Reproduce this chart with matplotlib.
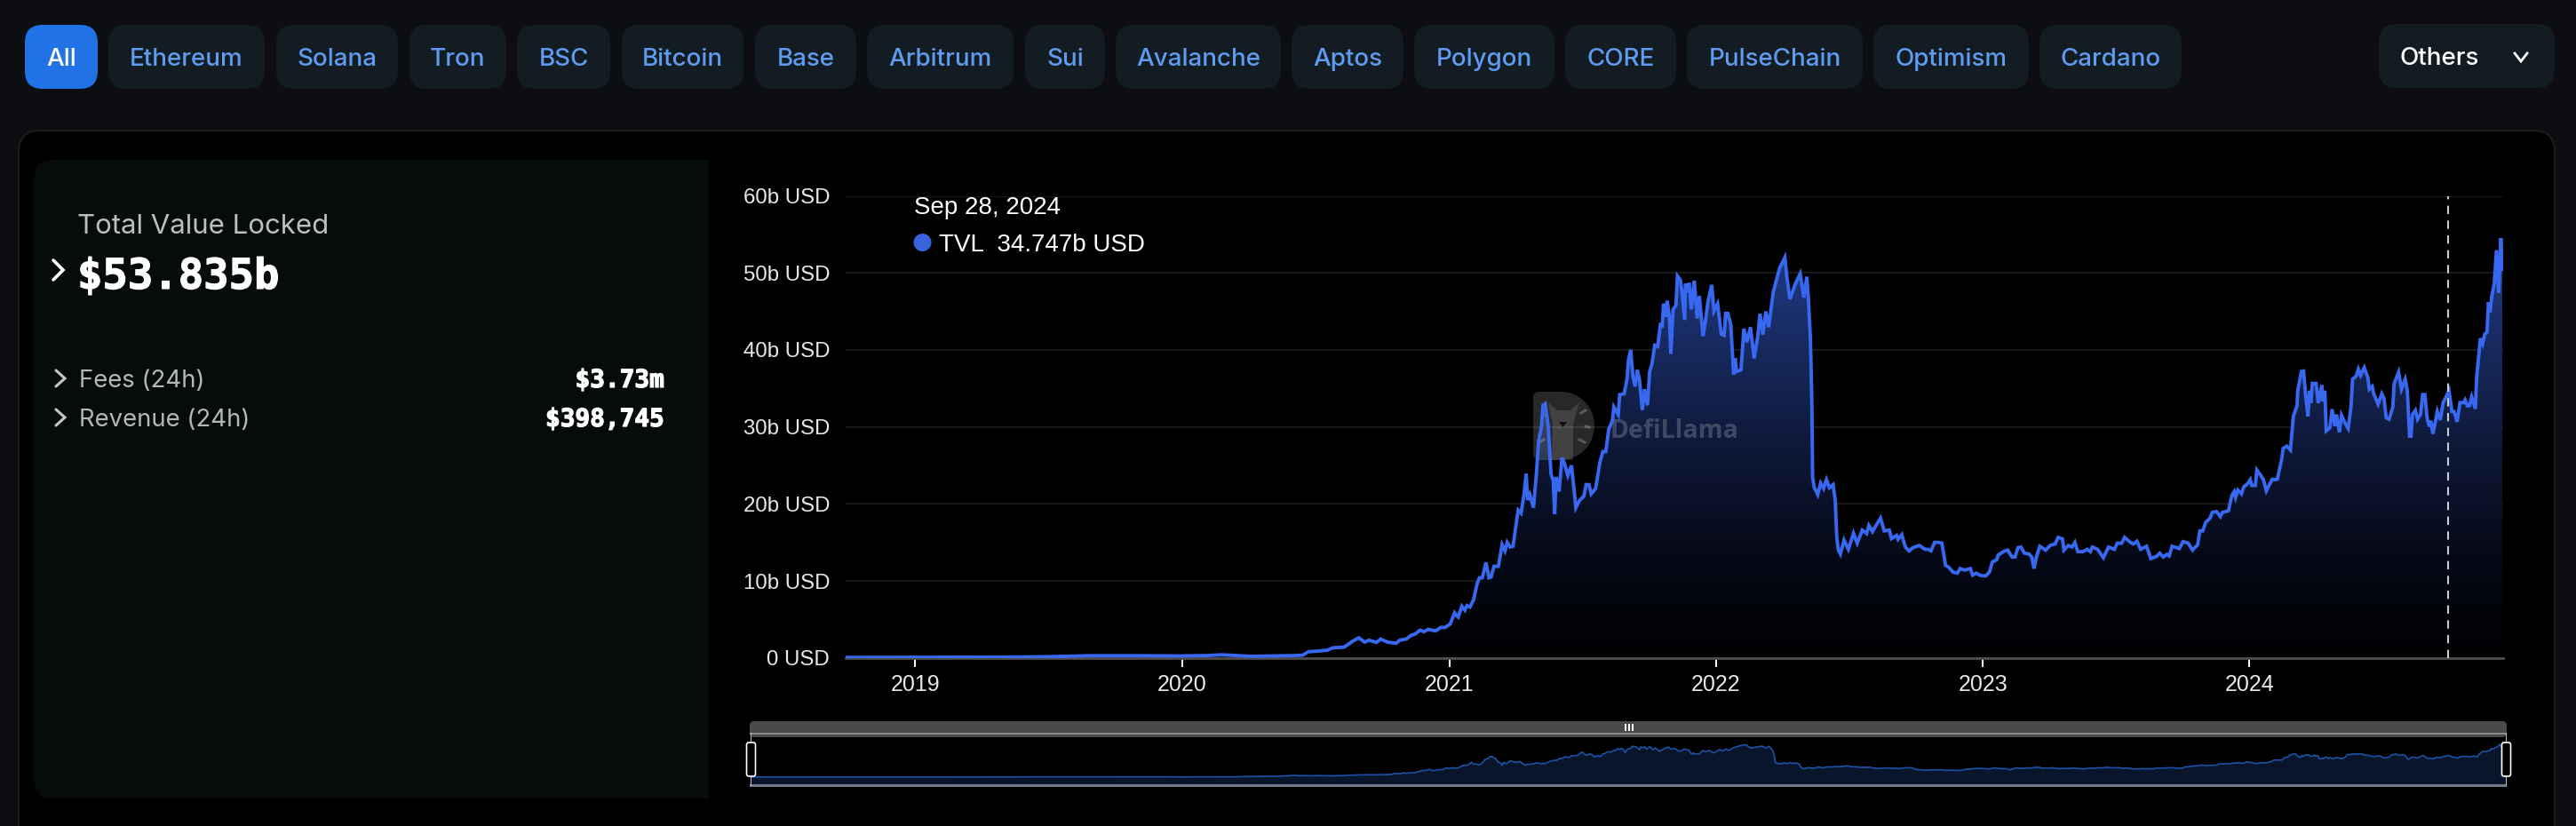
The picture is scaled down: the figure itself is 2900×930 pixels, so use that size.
import numpy as np
import matplotlib
matplotlib.use("Agg")
import matplotlib.pyplot as plt
import matplotlib.dates as mdates
import matplotlib.patheffects as pe
from matplotlib.patches import FancyBboxPatch, PathPatch, Rectangle, Polygon, Circle
from matplotlib.path import Path

# ---------- data: days since 2019-01-01, TVL in billions of USD ----------
base_date = np.datetime64("2019-01-01")
range_start = np.datetime64("2018-09-27")
range_end = np.datetime64("2024-12-13")
hover_date = np.datetime64("2024-09-28")

days_a = [-96,-40,0,60,120,180,240,300,360,400,419,460,520,530,538,551,564,571,587,599,607,615,621,631,637,646,658,663,672,678,684,691,696,702,712,719,725]
tvl_a = [0.05,0.06,0.07,0.07,0.10,0.15,0.28,0.28,0.25,0.30,0.40,0.20,0.30,0.35,0.80,0.88,1.0,1.3,1.4,2.2,2.6,2.05,2.3,2.0,2.45,2.05,1.9,2.3,2.45,2.9,3.1,3.6,3.4,3.7,3.5,3.95,3.95]

days_b = [732,738,741,743,748,752,755,759,764,769,772,776,781,785,788,792,798,803,807,810,814,818,822,825,829,833,836,838,841,846,850,853,857,859,862,866,870,873,875,877,881,885,889,893,898,901,904,909,915,918,922,925,931]
tvl_b = [4.4,5.85,5.45,5.3,6.7,6.2,6.8,6.6,7.55,9.7,10.4,10.4,12.4,10.4,10.5,11.9,11.9,14.7,13.9,15.0,14.4,14.5,17.2,19.2,18.8,21.2,23.9,20.5,21.2,19.5,23.9,28.15,30.1,32.8,33.0,30.3,23.9,23.0,18.7,23.5,21.6,26.0,25.1,23.7,25.0,22.4,19.5,20.45,21.0,22.5,22.5,21.3,22.0]

days_c = [937,941,945,949,954,956,962,964,970,974,976,979,982,985,988,991,995,998,1002,1005,1008,1012,1016,1020,1022,1024,1027,1029,1032,1034,1037,1041,1043,1047,1049,1053,1054,1057,1059,1062,1066,1070,1073,1078,1081,1085,1090,1093,1098,1103,1107,1109,1112,1116,1120,1122,1124,1130,1134,1138,1143,1148,1153,1156,1160,1164,1168,1174,1178,1183,1190,1193,1197,1204,1211,1216,1220,1222,1225,1227,1228]
tvl_c = [25.45,26.8,26.8,29.7,30.8,32.6,31.6,34.2,34.3,36.2,38.7,40.0,36.6,35.25,37.4,36.2,32.2,34.9,32.8,37.2,38.1,40.6,40.45,43.5,42.9,46.0,44.3,46.4,44.3,39.5,45.25,45.8,49.6,49.1,47.75,43.9,48.6,47.55,48.7,45.25,49.0,44.1,47.0,41.8,43.5,46.4,48.45,45.05,46.0,42.05,41.9,44.75,44.75,43.3,36.8,38.9,37.2,37.4,42.75,41.0,42.95,38.9,41.8,44.7,42.0,45.0,42.95,47.45,48.9,50.65,52.0,49.3,46.6,48.5,49.9,46.8,49.5,47.0,41.6,33.1,23.5]

days_d = [1230,1235,1239,1243,1247,1251,1256,1259,1261,1263,1266,1271,1277,1284,1289,1296,1302,1305,1310,1316,1321,1326,1333,1336,1343,1345,1350,1355,1360,1365,1374,1382,1386,1390,1395,1401,1405,1410,1414,1420,1426,1430,1436,1444,1447,1452,1458,1465,1470,1474,1480,1482,1490,1495,1501,1505,1509,1513,1518,1524,1528,1531,1534,1539,1547,1553,1560,1564]
tvl_d = [22.2,21.2,22.7,22.0,23.15,22.1,22.5,20.46,15.85,14.1,13.5,15.3,14.1,16.2,14.9,16.6,16.15,17.2,16.4,17.4,18.15,16.5,16.6,15.5,15.9,15.4,16.0,14.4,13.9,14.3,14.6,14.1,14.1,13.9,15.0,15.0,14.9,12.0,11.8,11.15,11.0,11.6,11.4,11.6,10.75,11.0,10.7,10.65,11.15,12.45,12.75,13.35,13.85,14.0,13.1,13.1,14.3,14.4,13.6,13.5,13.1,11.6,13.0,14.5,14.0,14.6,14.8,15.65]

days_e = [1570,1572,1578,1583,1587,1591,1598,1604,1608,1611,1618,1626,1633,1641,1645,1651,1655,1663,1667,1672,1677,1685,1691,1699,1703,1708,1713,1716,1720,1730,1735,1742,1748,1755,1758,1762,1766,1772,1775,1781,1786,1789,1797,1802,1805,1807,1810,1815,1818,1823,1827,1829,1834,1836,1841,1845,1849,1857]
tvl_e = [15.45,14.0,14.6,14.4,15.0,13.8,13.8,14.1,13.8,14.4,14.1,13.0,14.4,14.1,14.9,14.9,15.65,15.0,14.8,15.15,14.1,14.5,12.9,13.2,13.6,13.1,13.45,13.25,14.5,14.2,15.1,14.9,14.0,14.7,16.5,16.5,17.6,18.15,18.9,19.0,18.35,18.9,19.1,21.15,21.6,20.85,21.8,21.3,22.2,22.6,23.15,22.4,22.4,24.4,23.75,23.15,21.7,23.2]

days_f = [1860,1864,1870,1872,1877,1882,1886,1891,1892,1897,1900,1903,1906,1908,1910,1912,1917,1920,1925,1926,1929,1931,1936,1939,1943,1945,1949,1952,1957,1961,1965,1967,1972,1975,1978,1983,1988,1990,1994,1996,2002,2007,2010,2013,2017,2022,2024,2030,2034,2039,2042,2045,2047,2049,2053,2056,2060,2063,2066,2069,2072,2074,2077,2083,2087,2091,2095,2099,2103,2106,2110,2114,2119,2121,2124,2127,2130,2135,2137,2142,2145,2148,2151,2153,2155,2158,2161,2164,2167,2170,2172]
tvl_f = [23.15,23.2,25.8,27.2,27.5,27.0,31.4,32.75,34.7,37.2,37.25,33.9,31.4,34.7,33.1,35.65,35.65,33.1,35.45,33.3,34.7,29.5,29.9,32.3,30.1,31.6,29.3,31.5,30.45,29.8,32.75,36.2,36.6,37.5,36.7,37.7,36.4,34.9,35.25,34.3,32.95,34.3,33.7,31.2,31.0,32.55,35.65,37.1,34.9,36.2,34.7,28.8,28.8,31.6,32.15,31.0,31.6,34.2,34.2,31.2,30.05,30.8,29.1,32.0,30.9,33.15,33.9,34.7,32.0,32.0,30.65,33.15,33.15,33.5,32.75,32.75,33.9,32.35,36.6,41.5,40.8,42.05,42.3,46.2,44.9,47.2,48.7,52.95,47.4,54.5,50.45]

chains = ["All","Ethereum","Solana","Tron","BSC","Bitcoin","Base","Arbitrum","Sui","Avalanche","Aptos","Polygon","CORE","PulseChain","Optimism","Cardano"]
y_ticks = [0,10,20,30,40,50,60]
y_tick_labels = ["0 USD","10b USD","20b USD","30b USD","40b USD","50b USD","60b USD"]
year_ticks = ["2019","2020","2021","2022","2023","2024"]

# ---------- layout and style (pixels in a 2900x930 frame) ----------
W, H = 2900, 930
BG, PANEL, SIDE, PILL = "#0c0e11", "#000000", "#060b0c", "#131b23"
LINK, ACTIVE, LINE = "#5f9cf0", "#2172e5", "#3968f0"
pill_edges = [(28,110),(122,298),(311,448),(461,570),(582,687),(700,837),(850,964),(976,1141),(1154,1244),(1256,1442),(1454,1580),(1592,1750),(1762,1887),(1899,2097),(2109,2284),(2296,2456)]
UI = "Inter"
CHART = "Liberation Sans"
MONO = "DejaVu Sans Mono"

plt.rcParams["font.family"] = [CHART, "DejaVu Sans"]
fig = plt.figure(figsize=(W/100, H/100), dpi=100, facecolor=BG)

def frac(x0, y0, x1, y1):
    return [x0/W, 1-y1/H, (x1-x0)/W, (y1-y0)/H]

ui = fig.add_axes([0, 0, 1, 1], zorder=0)
ui.set_xlim(0, W); ui.set_ylim(H, 0); ui.axis("off")

def rbox(x0, y0, x1, y1, r, fc, ec="none", lw=0, **kw):
    p = FancyBboxPatch((x0, y0), x1-x0, y1-y0, boxstyle=f"round,pad=0,rounding_size={r}", fc=fc, ec=ec, lw=lw, **kw)
    ui.add_patch(p)
    return p

def chevron(x0, y0, x1, y1, color, lw=2.2):
    ym = (y0+y1)/2
    ui.plot([x0, x1, x0], [y0, ym, y1], color=color, lw=lw, solid_capstyle="round", solid_joinstyle="miter")

# pills
for name, (a, b) in zip(chains, pill_edges):
    on = name == "All"
    rbox(a, 28, b, 100, 20, ACTIVE if on else PILL)
    ui.text((a+b)/2, 74, name, ha="center", va="baseline", fontsize=20, family=UI, weight="medium",
            color="white" if on else LINK)
rbox(2678, 27, 2876, 99, 20, PILL)
ui.text(2702, 73, "Others", ha="left", va="baseline", fontsize=20, family=UI, weight="medium", color="white")
ui.plot([2831, 2838, 2845], [60, 69, 60], color="white", lw=2, solid_joinstyle="miter")

# panels
rbox(21, 147, 2876, 960, 24, PANEL, ec="#1b1c1e", lw=1.5)
rbox(38, 180, 830, 899, 22, SIDE)
ui.add_patch(Rectangle((798, 175), 40, 730, fc=PANEL, ec="none"))

# side panel text
heavy = [pe.withStroke(linewidth=0.9, foreground="white")]
ui.text(87, 263, "Total Value Locked", fontsize=22.4, family=UI, color="#bcbfbf", va="baseline")
ui.text(87, 325, "$53.835b", fontsize=34, family=MONO, weight="bold", color="white", va="baseline", path_effects=heavy)
chevron(60, 293, 71, 315, "white", 2.6)
chevron(63, 417, 73, 435, "#c4c6c6")
chevron(63, 461, 73, 479, "#c4c6c6")
ui.text(89, 436, "Fees (24h)", fontsize=19.8, family=UI, color="#b5b8b8", va="baseline")
ui.text(89, 480, "Revenue (24h)", fontsize=19.8, family=UI, color="#b5b8b8", va="baseline")
ui.text(748, 436, "$3.73m", fontsize=20, family=MONO, weight="bold", color="white", ha="right", va="baseline", path_effects=heavy)
ui.text(748, 480, "$398,745", fontsize=20, family=MONO, weight="bold", color="white", ha="right", va="baseline", path_effects=heavy)

# ---------- main chart ----------
days = np.array(days_a+days_b+days_c+days_d+days_e+days_f)
tvl = np.array(tvl_a+tvl_b+tvl_c+tvl_d+tvl_e+tvl_f)
dates = base_date + days.astype("timedelta64[D]")

ax = fig.add_axes(frac(951.5, 220.6, 2817.9, 740.7), zorder=2, facecolor="none")
xlim = mdates.date2num([range_start, range_end])

top_rgb = np.array([33, 60, 135])/255
grad = (np.linspace(1, 0, 256)[:, None, None]**1.35)*top_rgb[None, None, :] + np.array([1, 1, 4])[None, None, :]/255
im = ax.imshow(grad, extent=[xlim[0], xlim[1], 0, tvl.max()], aspect="auto", zorder=1.5, interpolation="bilinear")
area = ax.fill_between(dates, 0, tvl, color="none", lw=0)
im.set_clip_path(area.get_paths()[0], transform=ax.transData)

ax.plot(dates, tvl, color=LINE, lw=2.8, zorder=4, solid_joinstyle="miter")
ax.axvline(hover_date + np.timedelta64(1, "D"), color="#c9ccd3", lw=1.5, dashes=(4.5, 3.5), zorder=5)

ax.set_xlim(xlim); ax.set_ylim(0, 60)
ax.set_yticks(y_ticks); ax.set_yticklabels(y_tick_labels)
ax.set_xticks(mdates.date2num([np.datetime64(y+"-01-01") for y in year_ticks]))
ax.set_xticklabels(year_ticks)
ax.grid(axis="y", color="#191919", lw=1.6, zorder=1)
ax.set_axisbelow(True)
for s in ["top", "right", "left"]:
    ax.spines[s].set_visible(False)
ax.spines["bottom"].set_color("#4e4e4e"); ax.spines["bottom"].set_linewidth(2)
ax.tick_params(axis="y", length=0, pad=12.5, labelsize=17.3, labelcolor="#e8e8e8")
ax.tick_params(axis="x", length=7, width=1.4, color="white", pad=6, labelsize=18, labelcolor="#e8e8e8")

# tooltip
ui2 = fig.add_axes([0, 0, 1, 1], zorder=3, facecolor="none")
ui2.set_xlim(0, W); ui2.set_ylim(H, 0); ui2.axis("off")
ui2.text(1028.7, 241, "Sep 28, 2024", fontsize=20, color="white", va="baseline")
ui2.add_patch(Circle((1038.5, 273), 10, fc="#3a62dc", ec="none"))
ui2.text(1056.7, 283, "TVL  34.747b USD", fontsize=20, color="white", va="baseline")

# watermark (between the area and the line)
wt = ui.transData
d_path = Path([(1733,441),(1757,441),(1778,441),(1795,458),(1795,479),(1795,501),(1778,518),(1757,518),(1733,518),(1726,518),(1726,511),(1726,448),(1726,441),(1733,441)],
              [1,2,4,4,4,4,4,4,2,3,3,2,3,3])
ax.add_patch(PathPatch(d_path, fc="white", alpha=0.16, ec="none", transform=wt, zorder=2, clip_on=False))
llama = [(1743,453),(1753,462),(1768,462),(1778,453),(1773,470),(1771,478),(1771,518),(1747,518),(1748,476),(1746,470)]
ax.add_patch(Polygon(llama, closed=True, fc="white", alpha=0.12, ec="none", transform=wt, zorder=2.1, clip_on=False))
ax.add_patch(Polygon([(1755,475),(1764,475),(1759.5,481)], closed=True, fc="#111111", ec="none", transform=wt, zorder=2.2, clip_on=False))
for seg in [((1780,465),(1785,462)), ((1785,480),(1789,481)), ((1778,495),(1784,498)), ((1740,468),(1736,464)), ((1738,495),(1733,498))]:
    ax.plot([seg[0][0], seg[1][0]], [seg[0][1], seg[1][1]], color="white", alpha=0.22, lw=2.2, transform=wt, zorder=2.2, clip_on=False)
ax.text(1813, 493, "DefiLlama", fontsize=20.5, family="Open Sans", weight="bold", color="white", alpha=0.2,
        va="baseline", transform=wt, zorder=2.3, clip_on=False)

# ---------- range slider ----------
mini = fig.add_axes(frac(845, 827, 2822, 884), zorder=2, facecolor="none")
mini.fill_between(dates, -13.1, tvl, color="#08152b", lw=0)
mini.plot(dates, tvl, color="#1d52a8", lw=1.2)
mini.set_xlim(xlim); mini.set_ylim(-13.1, 68.6); mini.axis("off")

rbox(844, 812, 2822, 830, 5, "#4a4a4a", zorder=1)
ui2.add_patch(Rectangle((844, 825), 1978, 2, fc="#8a8a8a", ec="none"))
ui2.add_patch(Rectangle((844, 883), 1978, 2.5, fc="#717a8c", ec="none"))
ui2.add_patch(Rectangle((845, 825), 1, 60, fc="#bdbdbd", ec="none"))
ui2.add_patch(Rectangle((2821, 825), 1, 60, fc="#bdbdbd", ec="none"))
for dx in (-4, 0, 4):
    ui2.add_patch(Rectangle((1834+dx-0.8, 815), 1.6, 8, fc="white", ec="none"))
for xc in (845.5, 2821.5):
    ui2.add_patch(FancyBboxPatch((xc-5, 836), 10, 38, boxstyle="round,pad=0,rounding_size=2.5", fc="#000000", ec="white", lw=1.2))

fig.savefig("out.png", dpi=100, facecolor=BG)
